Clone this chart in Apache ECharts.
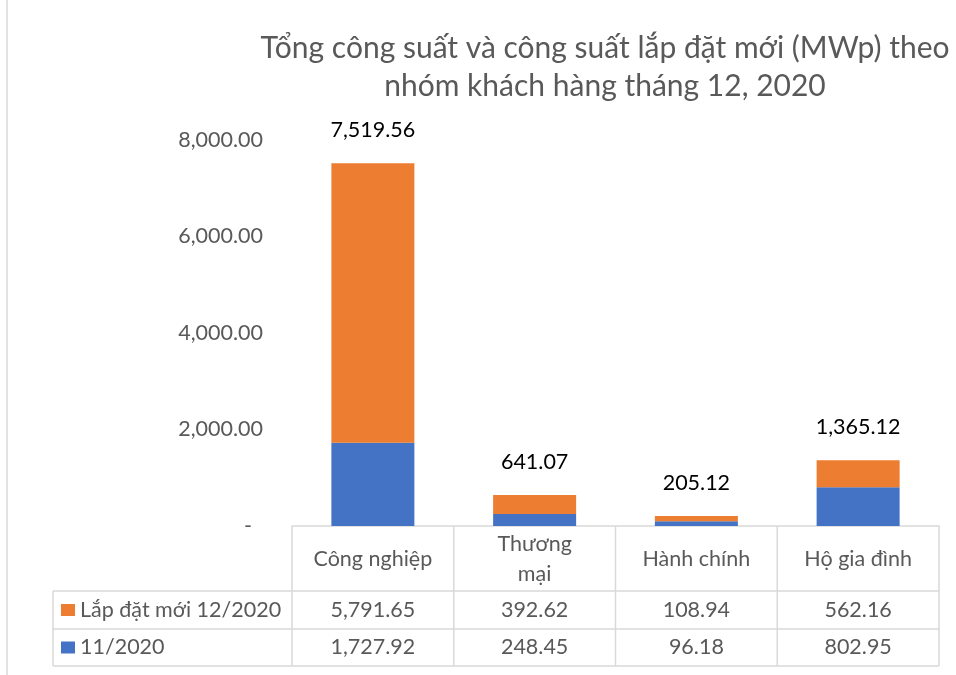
<!DOCTYPE html>
<html>
<head>
<meta charset="utf-8">
<script src="https://cdn.jsdelivr.net/npm/echarts@6/dist/echarts.min.js"></script>
<style>
  html, body { margin: 0; padding: 0; background: #fff; }
  #chart { width: 956px; height: 675px; }
</style>
</head>
<body>
<div id="chart"></div>
<script>
// dữ liệu
const categories = ['Công nghiệp', 'Thương mại', 'Hành chính', 'Hộ gia đình']
const prevName = '11/2020'
const newName = 'Lắp đặt mới 12/2020'
const prevValues = [1727.92, 248.45, 96.18, 802.95]
const newValues = [5791.65, 392.62, 108.94, 562.16]
const totalValues = [7519.56, 641.07, 205.12, 1365.12]
const yMax = 8000
const yStep = 2000

const FONT = 'Lato, "Noto Sans", sans-serif'
const FS = 21.5
const GREY = '#595959'
const LINE = '#d9d9d9'
const BLUE = '#4472C4'
const ORANGE = '#ED7D31'

const fmt = v => v.toLocaleString('en-US', { minimumFractionDigits: 2, maximumFractionDigits: 2 })

const chart = echarts.init(document.getElementById('chart'))

const gridLeft = 292
const gridRight = 17
const gridTop = 140
const gridBottom = 149

chart.setOption({
  animation: false,
  grid: { left: gridLeft, right: gridRight, top: gridTop, bottom: gridBottom },
  xAxis: {
    type: 'category',
    data: categories,
    axisLine: { lineStyle: { color: LINE, width: 1.5 } },
    axisTick: { show: false },
    axisLabel: {
      interval: 0,
      margin: 33,
      verticalAlign: 'middle',
      fontFamily: FONT,
      fontSize: FS,
      lineHeight: 30,
      color: GREY,
      formatter: v => v === 'Thương mại' ? 'Thương\nmại' : v
    }
  },
  yAxis: {
    type: 'value',
    min: 0,
    max: yMax,
    interval: yStep,
    splitLine: { show: false },
    axisLine: { show: false },
    axisTick: { show: false },
    axisLabel: {
      margin: 29,
      fontFamily: FONT,
      fontSize: FS,
      color: GREY,
      formatter: v => v === 0 ? '-  ' : fmt(v)
    }
  },
  series: [
    {
      name: prevName,
      type: 'bar',
      stack: 'total',
      barWidth: 83,
      itemStyle: { color: BLUE },
      data: prevValues
    },
    {
      name: newName,
      type: 'bar',
      stack: 'total',
      barWidth: 83,
      itemStyle: { color: ORANGE },
      label: {
        show: true,
        position: 'top',
        distance: 22,
        fontFamily: FONT,
        fontSize: FS,
        color: '#000',
        formatter: p => fmt(totalValues[p.dataIndex])
      },
      data: newValues
    }
  ]
})

// bảng dữ liệu bên dưới trục
const buildTable = () => {
  const centers = categories.map((c, i) => chart.convertToPixel({ xAxisIndex: 0 }, i))
  const colW = centers[1] - centers[0]
  const x0 = centers[0] - colW / 2
  const x1 = centers[centers.length - 1] + colW / 2
  const yTop = 675 - gridBottom
  const yHead = 591
  const yRow1 = 629
  const yRow2 = 666
  const xLeft = 53
  const els = []
  const line = (ax, ay, bx, by) => els.push({
    type: 'line',
    shape: { x1: ax, y1: ay, x2: bx, y2: by },
    style: { stroke: LINE, lineWidth: 1.5 }
  })
  const text = (t, x, y, align) => els.push({
    type: 'text',
    x, y,
    style: { text: t, font: FS + 'px ' + FONT, fill: GREY, align: align || 'center', verticalAlign: 'middle' }
  })

  // khung ngoài của biểu đồ
  line(7, 0, 7, 675)

  line(xLeft, yHead, x1, yHead)
  line(xLeft, yRow1, x1, yRow1)
  line(xLeft, yRow2, x1, yRow2)
  line(xLeft, yHead, xLeft, yRow2)
  for (let i = 0; i <= categories.length; i++) {
    const x = x0 + i * colW
    line(x, yTop, x, yRow2)
  }

  const rows = [
    { name: newName, color: ORANGE, values: newValues, y: (yHead + yRow1) / 2 },
    { name: prevName, color: BLUE, values: prevValues, y: (yRow1 + yRow2) / 2 }
  ]
  rows.forEach(r => {
    els.push({ type: 'rect', shape: { x: 61, y: r.y - 6, width: 14, height: 12 }, style: { fill: r.color } })
    text(r.name, 80, r.y, 'left')
    r.values.forEach((v, i) => text(fmt(v), centers[i], r.y))
  })

  // tiêu đề
  els.push({
    type: 'text',
    x: 605,
    y: 29,
    style: {
      text: 'Tổng công suất và công suất lắp đặt mới (MWp) theo\nnhóm khách hàng tháng 12, 2020',
      font: '30px ' + FONT,
      lineHeight: 38,
      fill: GREY,
      align: 'center',
      verticalAlign: 'top'
    }
  })

  chart.setOption({ graphic: els })
}
buildTable()
</script>
</body>
</html>
